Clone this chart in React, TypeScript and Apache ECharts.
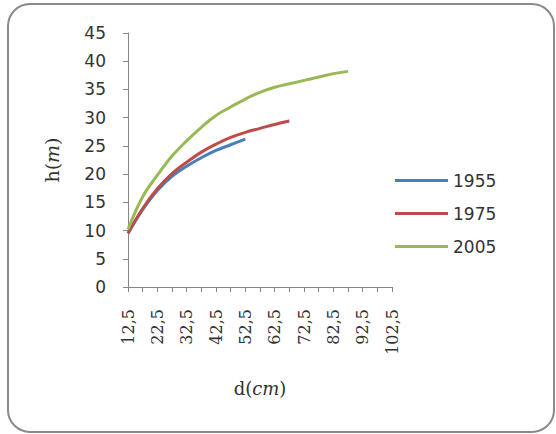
import React, { useEffect, useRef } from "react";
import * as echarts from "echarts";

const categories = ["12,5", "17,5", "22,5", "27,5", "32,5", "37,5", "42,5", "47,5", "52,5", "57,5", "62,5", "67,5", "72,5", "77,5", "82,5", "87,5", "92,5", "97,5", "102,5"];
const seriesNames = ["1955", "1975", "2005"];
const h1955 = [9.5, 13.7, 17.1, 19.6, 21.4, 22.9, 24.2, 25.2, 26.2];
const h1975 = [9.5, 13.9, 17.4, 20.1, 22.1, 23.9, 25.3, 26.5, 27.4, 28.1, 28.8, 29.4];
const h2005 = [10.2, 16.0, 19.8, 23.2, 25.9, 28.3, 30.4, 31.9, 33.3, 34.5, 35.4, 36.0, 36.6, 37.2, 37.8, 38.2];
const colors = ["#4A7EBB", "#BE4B48", "#98B954"];

export default function App() {
  const ref = useRef<HTMLDivElement>(null);
  useEffect(() => {
    if (!ref.current) return;
    const chart = echarts.init(ref.current, null, { renderer: "svg" });
    const data = [h1955, h1975, h2005];
    chart.setOption({
      animation: false,
      backgroundColor: "#ffffff",
      graphic: [
        {
          type: "rect",
          shape: { x: 8, y: 4, width: 546, height: 428, r: 22 },
          style: { fill: "none", stroke: "#8a8a8a", lineWidth: 2 },
          silent: true,
        },
      ],
      grid: { left: 128, top: 33, right: 164, bottom: 147 },
      legend: {
        orient: "vertical",
        left: 395,
        top: 172,
        padding: 0,
        icon: "rect",
        itemWidth: 53,
        itemHeight: 3,
        itemGap: 16,
        data: seriesNames,
        textStyle: { fontFamily: "DejaVu Sans", fontSize: 17, color: "#333333", padding: [0, 0, 0, 0] },
      },
      xAxis: {
        type: "category",
        data: categories,
        boundaryGap: false,
        axisLine: { lineStyle: { color: "#868686", width: 1 } },
        axisTick: { show: true, interval: 0, length: 5, lineStyle: { color: "#868686" } },
        axisLabel: {
          interval: 1,
          rotate: 90,
          margin: 22,
          fontFamily: "DejaVu Serif",
          fontSize: 16,
          color: "#333333",
        },
        splitLine: { show: false },
        name: "{a|d(}{b|cm}{a|)}",
        nameLocation: "middle",
        nameGap: 92,
        nameTextStyle: {
          rich: {
            a: { fontFamily: "DejaVu Serif", fontSize: 18, color: "#333333" },
            b: { fontFamily: "DejaVu Serif", fontStyle: "italic", fontSize: 18, color: "#333333" },
          },
        },
      },
      yAxis: {
        type: "value",
        min: 0,
        max: 45,
        interval: 5,
        axisLine: { show: true, lineStyle: { color: "#868686", width: 1 } },
        axisTick: { show: true, length: 5, lineStyle: { color: "#868686" } },
        axisLabel: { margin: 22, fontFamily: "DejaVu Sans", fontSize: 17, color: "#333333" },
        splitLine: { show: false },
        name: "{a|h(}{b|m}{a|)}",
        nameLocation: "middle",
        nameRotate: 90,
        nameGap: 67,
        nameTextStyle: {
          rich: {
            a: { fontFamily: "DejaVu Serif", fontSize: 19, color: "#333333" },
            b: { fontFamily: "DejaVu Serif", fontStyle: "italic", fontSize: 19, color: "#333333" },
          },
        },
      },
      series: seriesNames.map((n, i) => ({
        name: n,
        type: "line",
        data: data[i],
        smooth: 0.4,
        symbol: "none",
        lineStyle: { color: colors[i], width: 3 },
        itemStyle: { color: colors[i] },
      })),
    });
    return () => chart.dispose();
  }, []);
  return (
    <div
      ref={ref}
      style={{ position: "absolute", left: 0, top: 0, width: 556, height: 434 }}
    />
  );
}
